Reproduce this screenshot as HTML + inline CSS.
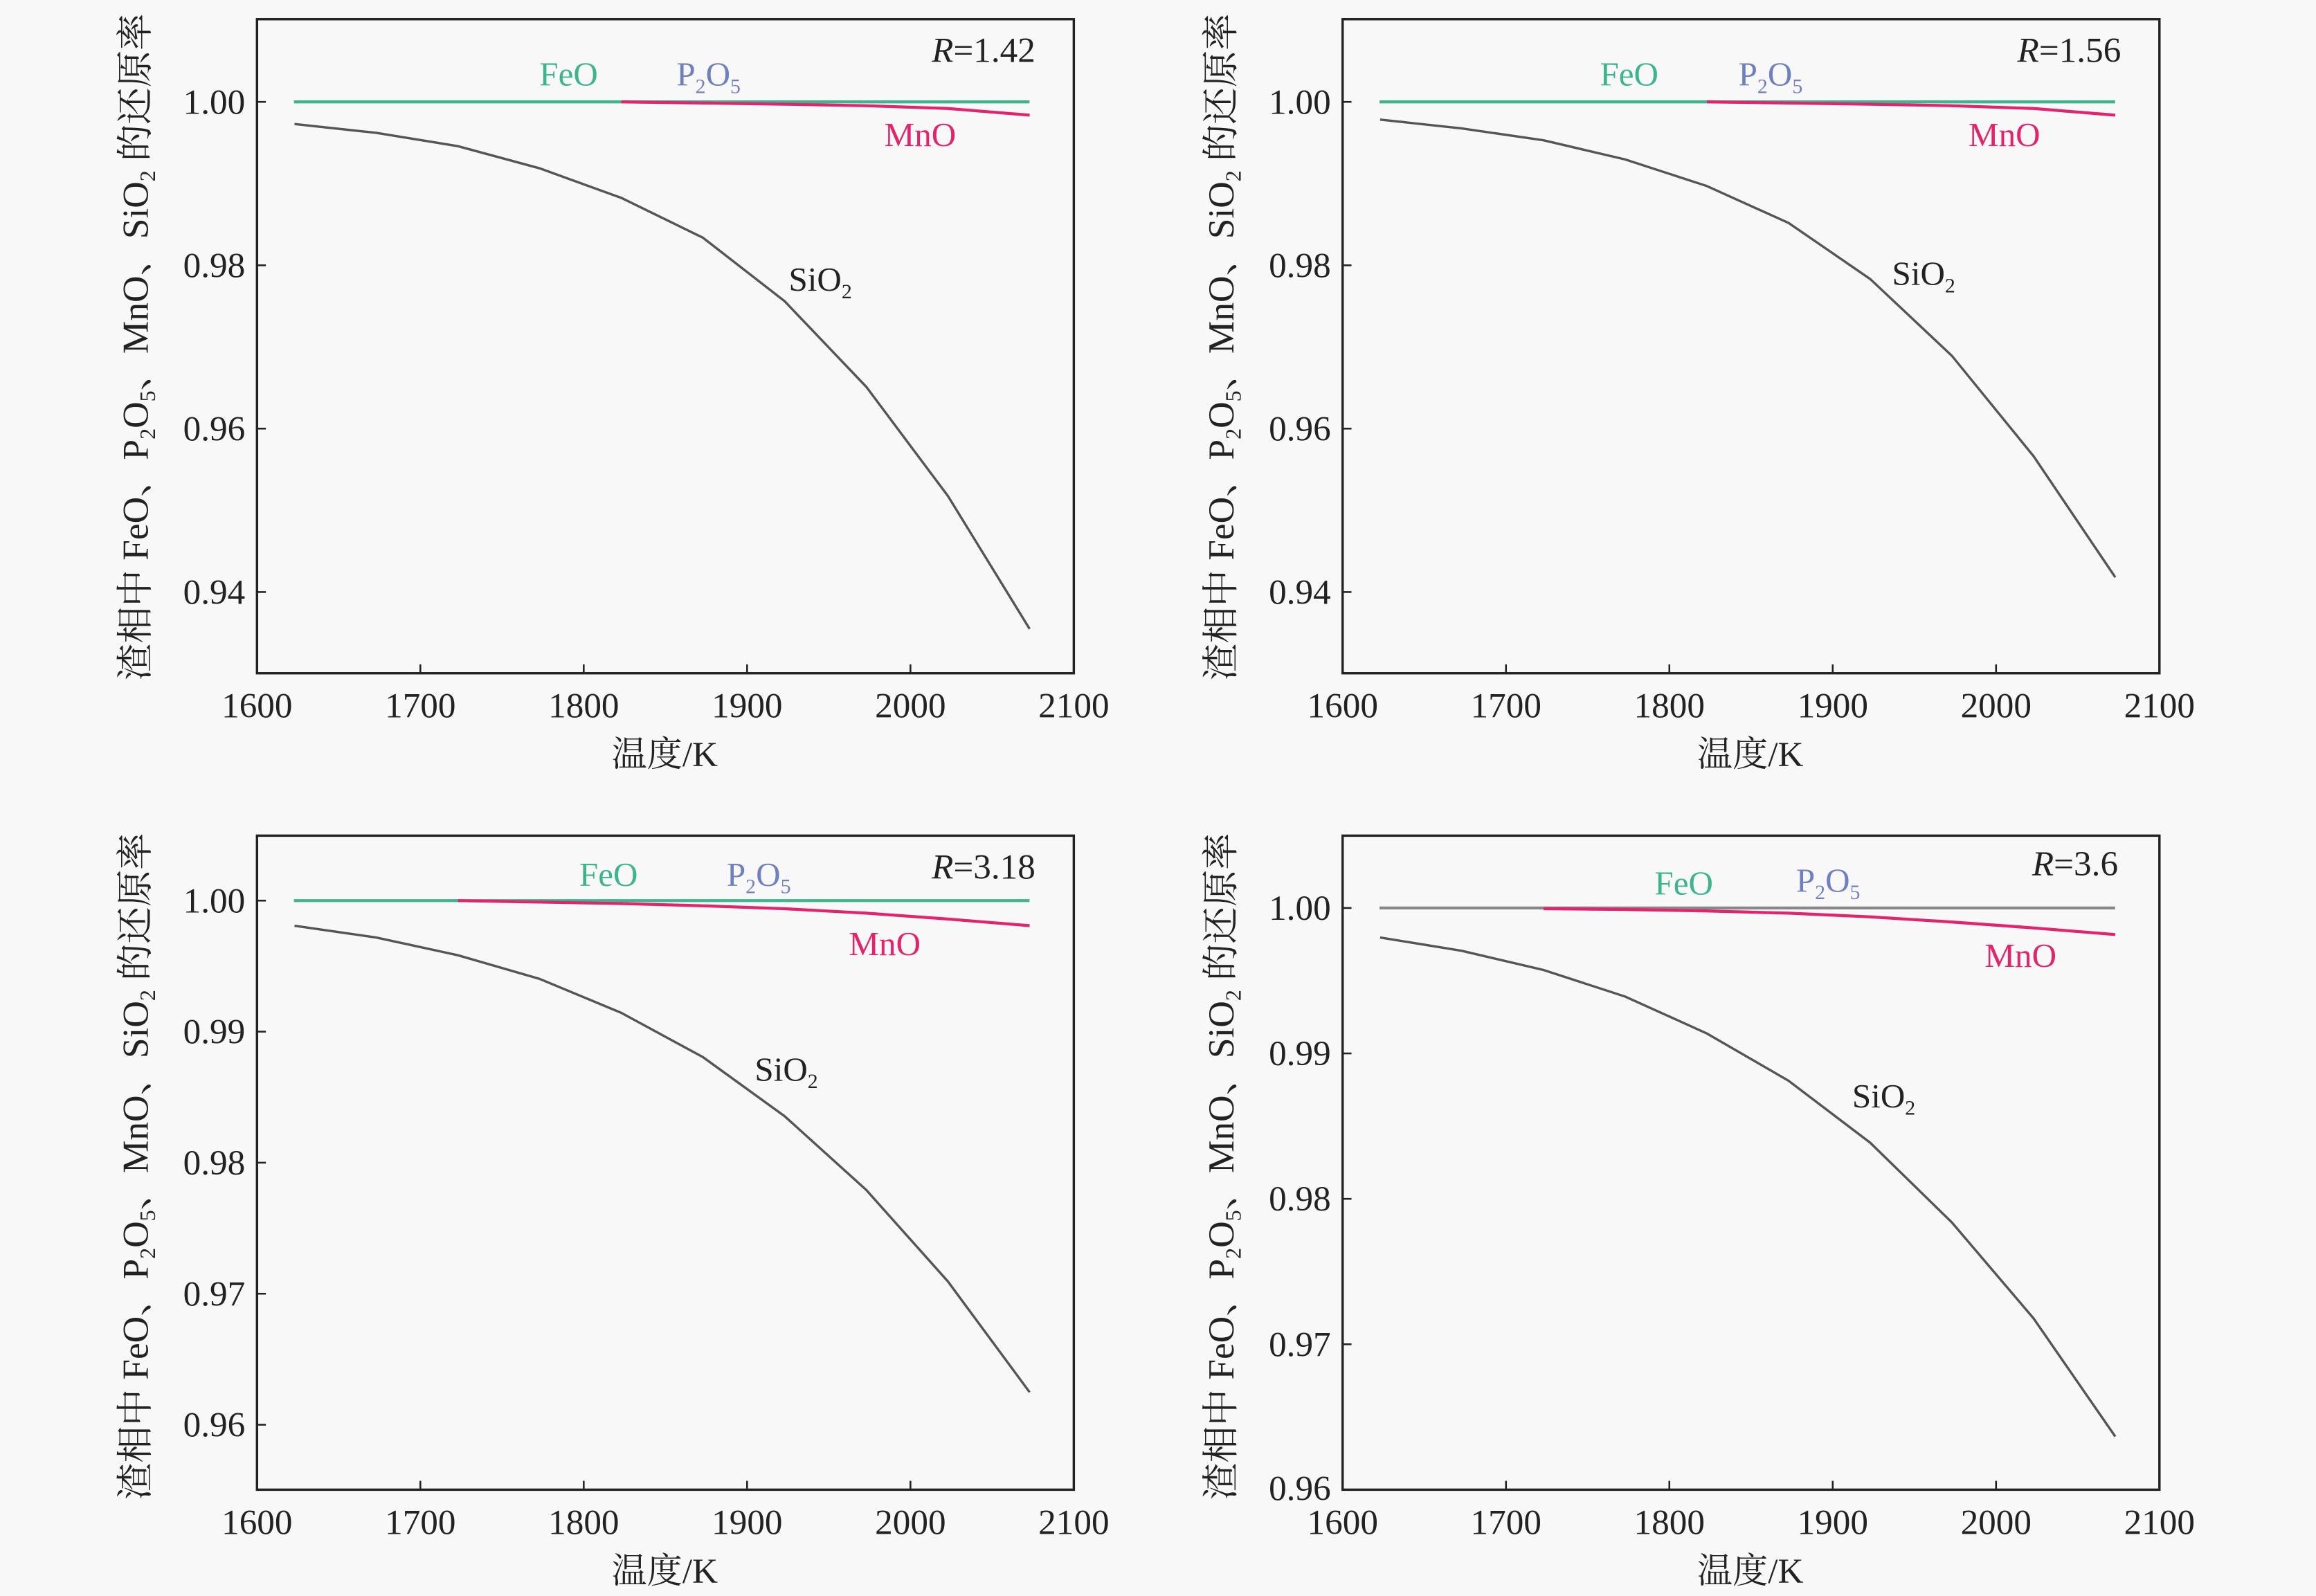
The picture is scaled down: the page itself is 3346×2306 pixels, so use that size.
<!DOCTYPE html>
<html><head><meta charset="utf-8"><style>
html,body{margin:0;padding:0;background:#f8f8f8;}
svg{display:block;}
text{font-family:"Liberation Serif","Noto Serif CJK SC","Noto Sans CJK SC",serif;fill:#222;}
.t{font-size:24px;}
.l{font-size:23px;}
.y{font-size:25px;}
</style></head><body>
<svg width="3346" height="2306" viewBox="0 0 1568 1081" preserveAspectRatio="none" xmlns="http://www.w3.org/2000/svg">
<rect width="1568" height="1081" fill="#f8f8f8"/>
<defs>
<g id="xt">
<g stroke="#222" stroke-width="1.2">
<line x1="284.6" y1="0" x2="284.6" y2="-6"/><line x1="395.2" y1="0" x2="395.2" y2="-6"/><line x1="505.8" y1="0" x2="505.8" y2="-6"/><line x1="616.4" y1="0" x2="616.4" y2="-6"/>
</g>
<g text-anchor="middle">
<text x="174" y="30" class="t">1600</text><text x="284.6" y="30" class="t">1700</text><text x="395.2" y="30" class="t">1800</text><text x="505.8" y="30" class="t">1900</text><text x="616.4" y="30" class="t">2000</text><text x="727" y="30" class="t">2100</text>
<text x="450" y="63" class="t">温度/K</text>
</g>
</g>
</defs>

<!-- Panel 1 -->
<g>
<rect x="174" y="13" width="553" height="443" fill="none" stroke="#222" stroke-width="1.6"/>
<use href="#xt" y="456"/>
<g stroke="#222" stroke-width="1.2"><line x1="174" y1="69" x2="180" y2="69"/><line x1="174" y1="179.7" x2="180" y2="179.7"/><line x1="174" y1="290.3" x2="180" y2="290.3"/><line x1="174" y1="401" x2="180" y2="401"/></g>
<g text-anchor="end"><text x="166" y="77" class="t">1.00</text><text x="166" y="187.7" class="t">0.98</text><text x="166" y="298.3" class="t">0.96</text><text x="166" y="409" class="t">0.94</text></g>
<text class="y" transform="translate(100,235) rotate(-90)" text-anchor="middle">渣相中 FeO、P<tspan font-size="15" dy="5">2</tspan><tspan dy="-5">O</tspan><tspan font-size="15" dy="5">5</tspan><tspan dy="-5">、MnO、SiO</tspan><tspan font-size="15" dy="5">2</tspan><tspan dy="-5"> 的还原率</tspan></text>
<line x1="199" y1="69" x2="697" y2="69" stroke="#3cb48e" stroke-width="2"/>
<polyline fill="none" stroke="#e3236c" stroke-width="2" points="420.6,69 475.9,69.8 531.2,70.6 586.5,71.6 641.8,73.5 697.1,78"/>
<polyline fill="none" stroke="#555" stroke-width="1.6" points="199.4,84 254.7,90 310,99 365.3,114 420.6,134 475.9,161 531.2,204 586.5,262 641.8,336 697.1,426"/>
<text x="385" y="58" class="l" text-anchor="middle" style="fill:#3cb48e">FeO</text>
<text x="458" y="58" class="l" style="fill:#6f7fbf">P<tspan font-size="14" dy="5">2</tspan><tspan dy="-5">O</tspan><tspan font-size="14" dy="5">5</tspan></text>
<text x="701" y="42" class="t" text-anchor="end"><tspan font-style="italic">R</tspan>=1.42</text>
<text x="623" y="99" class="l" text-anchor="middle" style="fill:#e3236c">MnO</text>
<text x="534" y="197" class="l">SiO<tspan font-size="14" dy="5">2</tspan></text>
</g>

<!-- Panel 2 -->
<g transform="translate(735,0)">
<rect x="174" y="13" width="553" height="443" fill="none" stroke="#222" stroke-width="1.6"/>
<use href="#xt" y="456"/>
<g stroke="#222" stroke-width="1.2"><line x1="174" y1="69" x2="180" y2="69"/><line x1="174" y1="179.7" x2="180" y2="179.7"/><line x1="174" y1="290.3" x2="180" y2="290.3"/><line x1="174" y1="401" x2="180" y2="401"/></g>
<g text-anchor="end"><text x="166" y="77" class="t">1.00</text><text x="166" y="187.7" class="t">0.98</text><text x="166" y="298.3" class="t">0.96</text><text x="166" y="409" class="t">0.94</text></g>
<text class="y" transform="translate(100,235) rotate(-90)" text-anchor="middle">渣相中 FeO、P<tspan font-size="15" dy="5">2</tspan><tspan dy="-5">O</tspan><tspan font-size="15" dy="5">5</tspan><tspan dy="-5">、MnO、SiO</tspan><tspan font-size="15" dy="5">2</tspan><tspan dy="-5"> 的还原率</tspan></text>
<line x1="199" y1="69" x2="697" y2="69" stroke="#3cb48e" stroke-width="2"/>
<polyline fill="none" stroke="#e3236c" stroke-width="2" points="420.6,69 475.9,69.8 531.2,70.6 586.5,71.6 641.8,73.5 697.1,78"/>
<polyline fill="none" stroke="#555" stroke-width="1.6" points="199.4,81 254.7,87 310,95 365.3,108 420.6,126 475.9,151 531.2,189 586.5,241 641.8,309 697.1,391"/>
<text x="368" y="58" class="l" text-anchor="middle" style="fill:#3cb48e">FeO</text>
<text x="442" y="58" class="l" style="fill:#6f7fbf">P<tspan font-size="14" dy="5">2</tspan><tspan dy="-5">O</tspan><tspan font-size="14" dy="5">5</tspan></text>
<text x="701" y="42" class="t" text-anchor="end"><tspan font-style="italic">R</tspan>=1.56</text>
<text x="622" y="99" class="l" text-anchor="middle" style="fill:#e3236c">MnO</text>
<text x="546" y="193" class="l">SiO<tspan font-size="14" dy="5">2</tspan></text>
</g>

<!-- Panel 3 -->
<g>
<rect x="174" y="566" width="553" height="443" fill="none" stroke="#222" stroke-width="1.6"/>
<use href="#xt" y="1009"/>
<g stroke="#222" stroke-width="1.2"><line x1="174" y1="610" x2="180" y2="610"/><line x1="174" y1="698.75" x2="180" y2="698.75"/><line x1="174" y1="787.5" x2="180" y2="787.5"/><line x1="174" y1="876.25" x2="180" y2="876.25"/><line x1="174" y1="965" x2="180" y2="965"/></g>
<g text-anchor="end"><text x="166" y="618" class="t">1.00</text><text x="166" y="706.75" class="t">0.99</text><text x="166" y="795.5" class="t">0.98</text><text x="166" y="884.25" class="t">0.97</text><text x="166" y="973" class="t">0.96</text></g>
<text class="y" transform="translate(100,790) rotate(-90)" text-anchor="middle">渣相中 FeO、P<tspan font-size="15" dy="5">2</tspan><tspan dy="-5">O</tspan><tspan font-size="15" dy="5">5</tspan><tspan dy="-5">、MnO、SiO</tspan><tspan font-size="15" dy="5">2</tspan><tspan dy="-5"> 的还原率</tspan></text>
<line x1="199" y1="610" x2="697" y2="610" stroke="#3cb48e" stroke-width="2"/>
<polyline fill="none" stroke="#e3236c" stroke-width="2" points="310,610 365.3,611 420.6,612 475.9,613.5 531.2,615.5 586.5,618.5 641.8,622.5 697.1,627"/>
<polyline fill="none" stroke="#555" stroke-width="1.6" points="199.4,627 254.7,635 310,647 365.3,663 420.6,686 475.9,716 531.2,756 586.5,806 641.8,868 697.1,943"/>
<text x="412" y="600" class="l" text-anchor="middle" style="fill:#3cb48e">FeO</text>
<text x="492" y="600" class="l" style="fill:#6f7fbf">P<tspan font-size="14" dy="5">2</tspan><tspan dy="-5">O</tspan><tspan font-size="14" dy="5">5</tspan></text>
<text x="701" y="595" class="t" text-anchor="end"><tspan font-style="italic">R</tspan>=3.18</text>
<text x="599" y="647" class="l" text-anchor="middle" style="fill:#e3236c">MnO</text>
<text x="511" y="732" class="l">SiO<tspan font-size="14" dy="5">2</tspan></text>
</g>

<!-- Panel 4 -->
<g transform="translate(735,0)">
<rect x="174" y="566" width="553" height="443" fill="none" stroke="#222" stroke-width="1.6"/>
<use href="#xt" y="1009"/>
<g stroke="#222" stroke-width="1.2"><line x1="174" y1="615" x2="180" y2="615"/><line x1="174" y1="713.5" x2="180" y2="713.5"/><line x1="174" y1="812" x2="180" y2="812"/><line x1="174" y1="910.5" x2="180" y2="910.5"/></g>
<g text-anchor="end"><text x="166" y="623" class="t">1.00</text><text x="166" y="721.5" class="t">0.99</text><text x="166" y="820" class="t">0.98</text><text x="166" y="918.5" class="t">0.97</text><text x="166" y="1016" class="t">0.96</text></g>
<text class="y" transform="translate(100,790) rotate(-90)" text-anchor="middle">渣相中 FeO、P<tspan font-size="15" dy="5">2</tspan><tspan dy="-5">O</tspan><tspan font-size="15" dy="5">5</tspan><tspan dy="-5">、MnO、SiO</tspan><tspan font-size="15" dy="5">2</tspan><tspan dy="-5"> 的还原率</tspan></text>
<line x1="199" y1="615" x2="697" y2="615" stroke="#888" stroke-width="2"/>
<polyline fill="none" stroke="#e3236c" stroke-width="2" points="310,615.5 365.3,616 420.6,617 475.9,618.5 531.2,621 586.5,624.5 641.8,628.5 697.1,633"/>
<polyline fill="none" stroke="#555" stroke-width="1.6" points="199.4,635 254.7,644 310,657 365.3,675 420.6,700 475.9,732 531.2,774 586.5,828 641.8,893 697.1,973"/>
<text x="405" y="606" class="l" text-anchor="middle" style="fill:#3cb48e">FeO</text>
<text x="481" y="604" class="l" style="fill:#6f7fbf">P<tspan font-size="14" dy="5">2</tspan><tspan dy="-5">O</tspan><tspan font-size="14" dy="5">5</tspan></text>
<text x="699" y="593" class="t" text-anchor="end"><tspan font-style="italic">R</tspan>=3.6</text>
<text x="633" y="655" class="l" text-anchor="middle" style="fill:#e3236c">MnO</text>
<text x="519" y="750" class="l">SiO<tspan font-size="14" dy="5">2</tspan></text>
</g>
</svg>
</body></html>
